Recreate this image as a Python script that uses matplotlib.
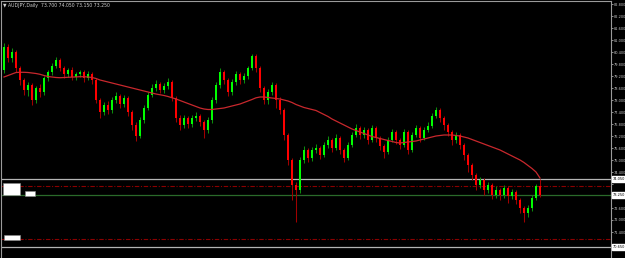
import matplotlib
matplotlib.use("Agg")
import matplotlib.pyplot as plt
import matplotlib.transforms as mtransforms
from matplotlib.patches import Rectangle
import numpy as np

# ---------------- data (daily candles) ----------------
first_open = 79.50
closes = [80.65, 80.10, 80.40, 79.60, 79.00, 78.50, 78.75, 78.00, 78.60, 78.40,
          79.10, 79.40, 79.70, 80.00, 79.60, 79.30, 79.50, 79.15, 79.30, 79.40,
          79.10, 79.30, 79.00, 78.00, 77.40, 77.75, 77.50, 78.00, 78.20, 77.80,
          78.10, 77.40, 76.75, 76.20, 77.00, 77.60, 78.25, 78.60, 78.80, 78.50,
          78.70, 78.90, 78.10, 77.10, 76.75, 77.10, 76.80, 77.10, 77.20, 76.90,
          76.50, 77.00, 78.00, 78.75, 79.40, 79.00, 78.40, 78.90, 79.30, 79.00,
          79.20, 79.60, 80.20, 79.60, 78.60, 78.00, 78.40, 78.75, 78.00, 77.50,
          76.25, 75.00, 73.75, 73.50, 75.00, 75.50, 75.10, 75.50, 75.60, 75.25,
          75.75, 76.00, 75.60, 76.10, 75.50, 75.10, 75.75, 76.25, 76.60, 76.25,
          76.50, 76.00, 76.60, 76.10, 75.70, 75.40, 76.00, 76.40, 76.00, 75.75,
          76.40, 75.50, 76.25, 76.60, 76.10, 76.50, 76.70, 77.20, 77.50, 77.10,
          76.75, 76.40, 76.00, 76.25, 75.75, 75.25, 74.75, 74.25, 73.75, 74.00,
          73.50, 73.75, 73.25, 73.50, 73.25, 73.60, 73.20, 73.40, 73.00, 72.60,
          72.35, 72.60, 73.10, 73.70, 73.25]
highs = [80.85, 80.80, 80.60, 80.50, 79.70, 79.10, 78.90, 78.85, 78.70, 78.80,
         79.20, 79.50, 79.85, 80.15, 80.10, 79.70, 79.60, 79.65, 79.40, 79.50,
         79.50, 79.45, 79.40, 79.10, 78.10, 77.90, 77.95, 78.15, 78.40, 78.30,
         78.25, 78.20, 77.50, 76.90, 77.15, 77.75, 78.40, 78.80, 79.00, 78.90,
         78.85, 79.10, 79.00, 78.20, 77.25, 77.25, 77.20, 77.25, 77.40, 77.30,
         77.00, 77.15, 78.15, 78.90, 79.60, 79.50, 79.10, 79.05, 79.45, 79.40,
         79.35, 79.70, 80.30, 80.30, 79.70, 78.70, 78.55, 78.90, 78.85, 78.15,
         77.60, 76.35, 75.10, 73.90, 75.15, 75.70, 75.60, 75.65, 75.80, 75.70,
         75.90, 76.20, 76.10, 76.30, 76.20, 75.60, 75.90, 76.40, 76.80, 76.70,
         76.65, 76.60, 76.75, 76.70, 76.20, 75.80, 76.15, 76.55, 76.50, 76.10,
         76.55, 76.50, 76.40, 76.75, 76.70, 76.65, 76.90, 77.35, 77.65, 77.60,
         77.20, 76.85, 76.50, 76.40, 76.35, 75.85, 75.35, 74.85, 74.35, 74.15,
         74.10, 73.90, 73.85, 73.70, 73.60, 73.75, 73.70, 73.55, 73.50, 73.10,
         72.70, 72.75, 73.25, 73.80, 74.05]
lows = [79.35, 79.90, 79.90, 79.40, 78.75, 78.25, 78.20, 77.75, 77.85, 78.15,
        78.25, 78.95, 79.25, 79.60, 79.45, 79.10, 79.15, 79.00, 79.00, 79.15,
        78.90, 79.00, 78.80, 77.85, 77.10, 77.25, 77.30, 77.35, 77.85, 77.60,
        77.65, 77.20, 76.50, 75.95, 76.10, 76.85, 77.50, 78.15, 78.45, 78.35,
        78.35, 78.55, 77.95, 76.90, 76.50, 76.60, 76.60, 76.65, 76.95, 76.70,
        76.10, 76.35, 76.85, 77.85, 78.60, 78.80, 78.20, 78.25, 78.75, 78.80,
        78.85, 79.05, 79.50, 79.40, 78.40, 77.80, 77.80, 78.25, 77.60, 77.30,
        76.00, 74.75, 73.00, 71.90, 73.35, 74.85, 74.90, 74.95, 75.35, 75.05,
        75.15, 75.60, 75.40, 75.50, 75.30, 74.90, 75.00, 75.65, 76.15, 76.05,
        76.10, 75.80, 75.90, 75.90, 75.50, 75.10, 75.30, 75.90, 75.80, 75.55,
        75.65, 75.30, 75.40, 76.15, 75.90, 76.00, 76.40, 76.60, 77.10, 76.90,
        76.50, 76.20, 75.75, 75.85, 75.55, 75.00, 74.40, 74.00, 73.50, 73.60,
        73.25, 73.35, 73.05, 73.10, 73.00, 73.10, 72.85, 73.05, 72.80, 72.35,
        71.90, 72.15, 72.45, 73.00, 73.15]
ma = [79.150, 79.225, 79.300, 79.375, 79.385, 79.385, 79.375, 79.350, 79.325, 79.285,
      79.225, 79.175, 79.150, 79.125, 79.115, 79.125, 79.140, 79.150, 79.160, 79.165,
      79.165, 79.150, 79.125, 79.075, 79.000, 78.950, 78.900, 78.850, 78.800, 78.750,
      78.700, 78.650, 78.600, 78.550, 78.500, 78.450, 78.400, 78.350, 78.300, 78.265,
      78.225, 78.175, 78.115, 78.050, 77.975, 77.900, 77.825, 77.750, 77.675, 77.600,
      77.550, 77.525, 77.525, 77.550, 77.575, 77.600, 77.650, 77.700, 77.750, 77.800,
      77.875, 77.950, 78.025, 78.110, 78.150, 78.150, 78.125, 78.100, 78.075, 78.050,
      78.000, 77.950, 77.875, 77.775, 77.700, 77.625, 77.575, 77.525, 77.475, 77.375,
      77.275, 77.175, 77.050, 76.950, 76.850, 76.750, 76.650, 76.550, 76.475, 76.400,
      76.325, 76.250, 76.175, 76.125, 76.075, 76.025, 75.975, 75.925, 75.875, 75.850,
      75.875, 75.900, 75.925, 75.950, 76.000, 76.050, 76.100, 76.150, 76.200, 76.225,
      76.250, 76.250, 76.250, 76.225, 76.200, 76.150, 76.100, 76.025, 75.950, 75.875,
      75.800, 75.725, 75.650, 75.575, 75.500, 75.400, 75.300, 75.200, 75.100, 75.000,
      74.875, 74.725, 74.575, 74.400, 74.100]
opens = [first_open] + closes[:-1]

symbol_title = "▼ AUDJPY,Daily  73.700 74.050 73.150 73.250"
tick_values = [82.8 - 0.6 * k for k in range(21)]
level_lines = [74.05, 70.65]          # horizontal line objects (gray)
dotted_levels = [73.70, 71.05]         # red dash-dot levels
bid_price = 73.25
tag_values = level_lines + [bid_price]

# ---------------- figure ----------------
W, H = 625, 258
fig = plt.figure(figsize=(W / 100, H / 100), dpi=100, facecolor="black")
ax = fig.add_axes([1 / W, 0, 610 / W, 257 / H], facecolor="black")

n = len(closes)
x = np.arange(n)
o = np.array(opens); c = np.array(closes)
h = np.array(highs); l = np.array(lows)
up = c >= o

ax.vlines(x[up], l[up], h[up], color="#0c8c0c", lw=0.75, zorder=2)
ax.vlines(x[~up], l[~up], h[~up], color="#a00000", lw=0.75, zorder=2)
bottoms = np.minimum(o, c)
heights = np.maximum(np.abs(c - o), 0.03)
ax.bar(x[up], heights[up], bottom=bottoms[up], width=0.62, color="#00ff00",
       linewidth=0, zorder=3)
ax.bar(x[~up], heights[~up], bottom=bottoms[~up], width=0.62, color="#ff0000",
       linewidth=0, zorder=3)

ax.plot(x, ma, color="#c8282d", lw=0.9, zorder=4)

for lv in level_lines:
    ax.axhline(lv, color="#b4b4b4", lw=0.9, zorder=1)
for lv in dotted_levels:
    ax.axhline(lv, color="#8b0000", lw=0.8, ls=(0, (4, 1.5, 1, 1.5)), zorder=1)
ax.axhline(bid_price, color="#2a6a2a", lw=0.9, zorder=1)

ax.set_xlim(-0.75, 151.75)
ax.set_ylim(70.1, 82.95)

# tick labels, skipping those hidden behind the price tags
shown_ticks = [v for v in tick_values if min(abs(v - t) for t in tag_values) > 0.25]
ax.yaxis.tick_right()
ax.set_yticks(tick_values)
ax.set_yticklabels(["%.3f" % v if v in shown_ticks else "" for v in tick_values])
ax.tick_params(axis="y", colors="#c8c8c8", labelsize=2.5, length=1.2, width=0.5, pad=0.6)
ax.set_xticks([])
for side in ["left", "top", "right"]:
    ax.spines[side].set_color("#9a9a9a")
    ax.spines[side].set_linewidth(0.8)
ax.spines["bottom"].set_visible(False)

# price tags on the axis
trans = mtransforms.blended_transform_factory(ax.transAxes, ax.transData)
for lv in tag_values:
    ax.text(1.003, lv, "%.3f" % lv, transform=trans, fontsize=2.5, color="black",
            va="center", ha="left", zorder=6, clip_on=False,
            bbox=dict(boxstyle="square,pad=0.15", fc="white", ec="white"))

# object labels at left
for (px, py, pw, ph) in [(3, 183, 17, 12), (25, 191, 10, 5), (4, 235, 16, 5)]:
    fig.add_artist(Rectangle((px / W, 1 - (py + ph) / H), pw / W, ph / H,
                             transform=fig.transFigure, facecolor="white",
                             edgecolor="#888888", lw=0.4, zorder=10))

fig.text(3 / W, 1 - 6 / H, symbol_title, color="#d0d0d0", fontsize=3.3,
         va="center", ha="left")

fig.savefig("out.png", dpi=100, facecolor="black")
